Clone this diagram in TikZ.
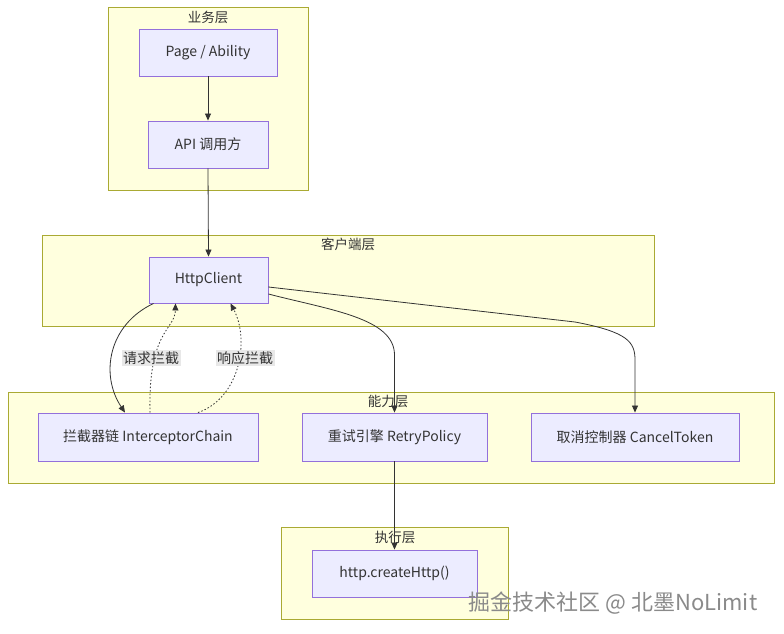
\documentclass[tikz,border=0pt]{standalone}
\usepackage{fontspec}
\setmainfont{Noto Sans CJK SC}
\usetikzlibrary{arrows.meta}
\definecolor{nodefill}{HTML}{ECECFF}
\definecolor{nodeline}{HTML}{9370DB}
\definecolor{clusterfill}{HTML}{FFFFDE}
\definecolor{clusterline}{HTML}{AAAA33}
\definecolor{edgecol}{HTML}{333333}
\definecolor{labelbg}{HTML}{E8E8E8}
\definecolor{wmark}{HTML}{8A8A8A}
\begin{document}
\begin{tikzpicture}[x=1pt,y=-1pt,
  cluster/.style={draw=clusterline,fill=clusterfill,line width=0.9pt,inner sep=0pt},
  ctitle/.style={font=\fontsize{13.5}{15}\selectfont,text=edgecol,inner sep=0pt},
  box/.style={draw=nodeline,fill=nodefill,line width=0.9pt,inner sep=0pt,font=\fontsize{14}{16}\selectfont,text=edgecol},
  edge/.style={draw=edgecol,line width=0.8pt,-{Triangle[length=7pt,width=6pt]}},
  dedge/.style={edge,dash pattern=on 1.5pt off 2pt},
  elabel/.style={fill=labelbg,inner sep=1.5pt,font=\fontsize{14}{16}\selectfont,text=edgecol}
]
\useasboundingbox (0,0) rectangle (784,634);
\fill[white] (0,0) rectangle (784,634);
% clusters
\node[cluster,minimum width=200pt,minimum height=183pt] (cbiz) at (208,98.5) {};
\node[ctitle] (cbizt) at (208,17) {业务层};
\node[cluster,minimum width=612pt,minimum height=91pt] (ccli) at (348,280.5) {};
\node[ctitle] (cclit) at (348,244) {客户端层};
\node[cluster,minimum width=766pt,minimum height=91pt] (ccap) at (391,437.5) {};
\node[ctitle] (ccapt) at (388,401) {能力层};
\node[cluster,minimum width=227pt,minimum height=92pt] (cexe) at (394.5,573) {};
\node[ctitle] (cexet) at (395,537) {执行层};
% nodes
\node[box,minimum width=138pt,minimum height=47pt] (page) at (208,52.5) {Page / Ability};
\node[box,minimum width=120pt,minimum height=47pt] (api) at (208,144.5) {API 调用方};
\node[box,minimum width=119pt,minimum height=46pt] (http) at (208.5,280) {HttpClient};
\node[box,minimum width=220pt,minimum height=48pt] (ic) at (148,437) {拦截器链 InterceptorChain};
\node[box,minimum width=185pt,minimum height=48pt] (rp) at (394.5,437) {重试引擎 RetryPolicy};
\node[box,minimum width=208pt,minimum height=48pt] (ct) at (635,437) {取消控制器 CancelToken};
\node[box,minimum width=165pt,minimum height=47pt] (hc) at (394.5,573.5) {http.createHttp()};
% edges
\draw[edge] (page.south) -- (api.north);
\draw[edge] (api.south) -- (http.north);
\draw[edge] ([xshift=-55pt]http.south) .. controls (108,325) and (100,375) .. ([xshift=-23pt]ic.north);
\draw[dedge] ([xshift=2pt]ic.north) .. controls (148,330) and (175,330) .. ([xshift=-33pt]http.south);
\draw[dedge] ([xshift=50pt]ic.north) .. controls (240,398) and (250,340) .. ([xshift=22pt]http.south);
\node[elabel] (l1) at (151,358) {请求拦截};
\node[elabel] (l2) at (245,358) {响应拦截};
\draw[edge] ([yshift=-14pt]http.east) .. controls (330,310) and (394.5,318) .. (394.5,355) -- (rp.north);
\draw[edge] ([yshift=-7pt]http.east) -- (575,322) .. controls (628,332) and (635,342) .. (635,360) -- (ct.north);
\draw[edge] (rp.south) -- (hc.north);
% watermark
\node[text=wmark,font=\fontsize{22}{24}\selectfont,inner sep=0pt] (wm) at (613,603) {掘金技术社区 @ 北墨NoLimit};
\end{tikzpicture}
\end{document}
